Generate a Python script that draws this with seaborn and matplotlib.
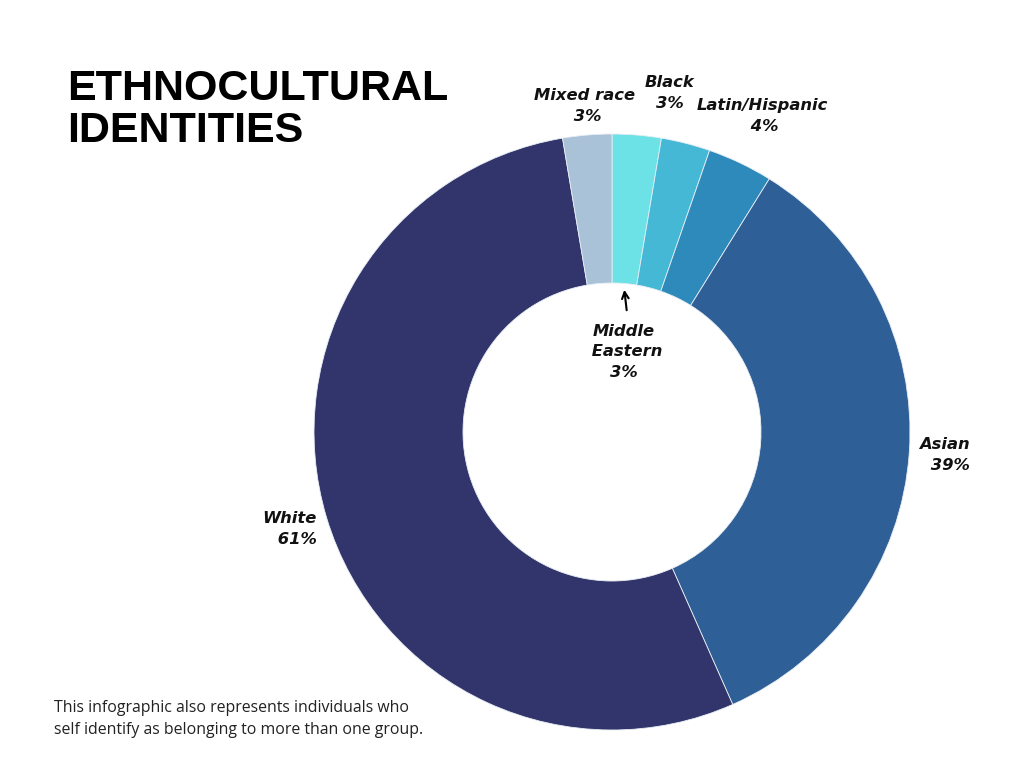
import matplotlib.pyplot as plt
import seaborn as sns

# data
groups = ['Middle Eastern', 'Black', 'Latin/Hispanic', 'Asian', 'White', 'Mixed race']
shares = [3, 3, 4, 39, 61, 3]
colors = ['#6ce2e6', '#45b8d6', '#2d8abb', '#2e5f96', '#31356b', '#a9c2d8']

sns.set_theme(style='white')
plt.rcParams['font.family'] = ['Open Sans', 'DejaVu Sans']

W, H = 1024, 768
fig = plt.figure(figsize=(W / 100, H / 100), dpi=100)
fig.patch.set_facecolor('white')

# donut centred at (612, 432) px, radius 298 px
cx, cy, r = 612, 432, 298
ax = fig.add_axes([(cx - r) / W, (H - cy - r) / H, 2 * r / W, 2 * r / H])
ax.pie(shares, colors=colors, startangle=90, counterclock=False, radius=1,
       wedgeprops=dict(width=0.5, edgecolor='#e8eef4', linewidth=0.6))
ax.set_xlim(-1, 1)
ax.set_ylim(-1, 1)
ax.set_aspect('equal')
ax.axis('off')


def px(x, y):
    return x / W, 1 - y / H


lab = dict(fontsize=11.8, fontweight='bold', fontstyle='italic', color='#111111',
           va='center', linespacing=1.45, family=['DejaVu Sans'])

fig.text(*px(585, 106), 'Mixed race\n 3%', ha='center', **lab)
fig.text(*px(670, 93), 'Black\n3%', ha='center', **lab)
fig.text(*px(762, 116), 'Latin/Hispanic\n 4%', ha='center', **lab)
fig.text(*px(624, 352), 'Middle\n Eastern\n3%', ha='center', **lab)
fig.text(*px(970, 455), 'Asian\n 39%', ha='right', **lab)
fig.text(*px(317, 529), 'White\n 61%', ha='right', **lab)

# arrow pointing to the Middle Eastern slice
fig.add_artist(plt.Annotation('', xy=px(624, 287), xytext=px(627, 313),
                              xycoords='figure fraction', textcoords='figure fraction',
                              arrowprops=dict(arrowstyle='->', color='black', lw=1.5)))

fig.text(*px(67, 110), 'ETHNOCULTURAL\nIDENTITIES', fontsize=31, fontweight='bold',
         family=['Liberation Sans', 'DejaVu Sans'], color='black', ha='left',
         va='center', linespacing=1.05)

fig.text(*px(54, 719), 'This infographic also represents individuals who\n'
         'self identify as belonging to more than one group.',
         fontsize=11.4, color='#222222', ha='left', va='center', linespacing=1.45)

plt.savefig('out.png', dpi=100, facecolor='white')
